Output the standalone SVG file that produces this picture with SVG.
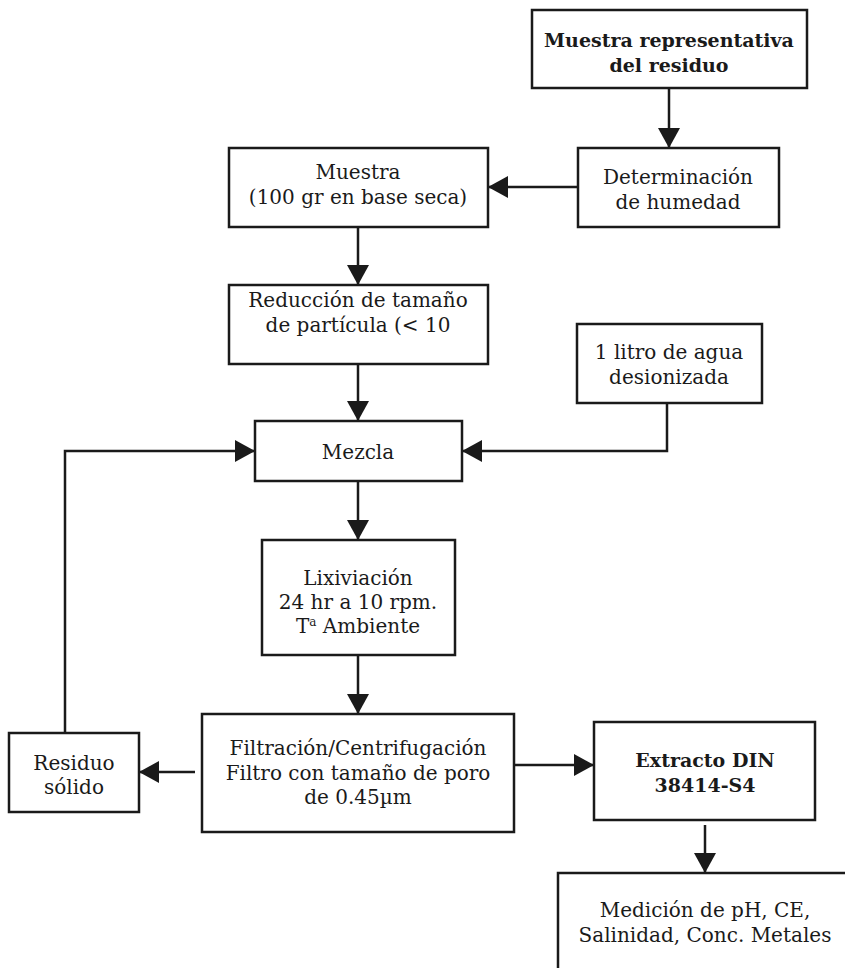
<svg xmlns="http://www.w3.org/2000/svg" width="845" height="968" viewBox="0 0 845 968">
<style>
.box{fill:#fff;stroke:#1a1a1a;stroke-width:2.5}
.t{font-family:"DejaVu Serif","Liberation Serif",serif;font-size:20px;fill:#1a1a1a;text-anchor:middle}
.b{font-weight:bold;font-size:19px}
.c{fill:none;stroke:#1a1a1a;stroke-width:2.5}
</style>
<defs>
<marker id="ah" markerUnits="userSpaceOnUse" markerWidth="22" markerHeight="24" refX="20" refY="12" orient="auto" viewBox="0 0 22 24">
<path d="M0,1 L20,12 L0,23 z" fill="#1a1a1a"/>
</marker>
</defs>
<rect width="845" height="968" fill="#fff"/>
<g id="connectors">
<line class="c" x1="669" y1="88" x2="669" y2="148" marker-end="url(#ah)"/>
<line class="c" x1="578" y1="187" x2="488" y2="187" marker-end="url(#ah)"/>
<line class="c" x1="358" y1="227" x2="358" y2="285" marker-end="url(#ah)"/>
<line class="c" x1="358" y1="364" x2="358" y2="421" marker-end="url(#ah)"/>
<polyline class="c" points="667,403 667,451 462,451" marker-end="url(#ah)"/>
<polyline class="c" points="65,733 65,451 255,451" marker-end="url(#ah)"/>
<line class="c" x1="358" y1="481" x2="358" y2="540" marker-end="url(#ah)"/>
<line class="c" x1="358" y1="655" x2="358" y2="714" marker-end="url(#ah)"/>
<line class="c" x1="195" y1="772" x2="139" y2="772" marker-end="url(#ah)"/>
<line class="c" x1="514" y1="765" x2="594" y2="765" marker-end="url(#ah)"/>
<line class="c" x1="705" y1="825" x2="705" y2="873" marker-end="url(#ah)"/>
</g>
<g id="n1"><rect class="box" x="532" y="10" width="275" height="78"/>
<text class="t b" x="669" y="47">Muestra representativa</text>
<text class="t b" x="669" y="72">del residuo</text></g>
<g id="n2"><rect class="box" x="578" y="148" width="201" height="79"/>
<text class="t" x="678" y="184">Determinación</text>
<text class="t" x="678" y="209">de humedad</text></g>
<g id="n3"><rect class="box" x="229" y="148" width="259" height="79"/>
<text class="t" x="358" y="179">Muestra</text>
<text class="t" x="358" y="204">(100 gr en base seca)</text></g>
<g id="n4"><rect class="box" x="229" y="285" width="259" height="79"/>
<text class="t" x="358" y="307">Reducción de tamaño</text>
<text class="t" x="358" y="332">de partícula (&lt; 10</text></g>
<g id="n5"><rect class="box" x="577" y="324" width="185" height="79"/>
<text class="t" x="669" y="359">1 litro de agua</text>
<text class="t" x="669" y="384">desionizada</text></g>
<g id="n6"><rect class="box" x="255" y="421" width="207" height="60"/>
<text class="t" x="358" y="459">Mezcla</text></g>
<g id="n7"><rect class="box" x="262" y="540" width="193" height="115"/>
<text class="t" x="358" y="585">Lixiviación</text>
<text class="t" x="358" y="609">24 hr a 10 rpm.</text>
<text class="t" x="358" y="633">T<tspan font-size="12" dy="-7">a</tspan><tspan dy="7"> Ambiente</tspan></text></g>
<g id="n8"><rect class="box" x="202" y="714" width="312" height="118"/>
<text class="t" x="358" y="755">Filtración/Centrifugación</text>
<text class="t" x="358" y="780">Filtro con tamaño de poro</text>
<text class="t" x="358" y="804">de 0.45µm</text></g>
<g id="n9"><rect class="box" x="9" y="733" width="130" height="79"/>
<text class="t" x="74" y="770">Residuo</text>
<text class="t" x="74" y="794">sólido</text></g>
<g id="n10"><rect class="box" x="594" y="722" width="221" height="98"/>
<text class="t b" x="705" y="767">Extracto DIN</text>
<text class="t b" x="705" y="792">38414-S4</text></g>
<g id="n11"><rect class="box" x="558" y="873" width="300" height="120"/>
<text class="t" x="705" y="917">Medición de pH, CE,</text>
<text class="t" x="705" y="942">Salinidad, Conc. Metales</text></g>
</svg>
